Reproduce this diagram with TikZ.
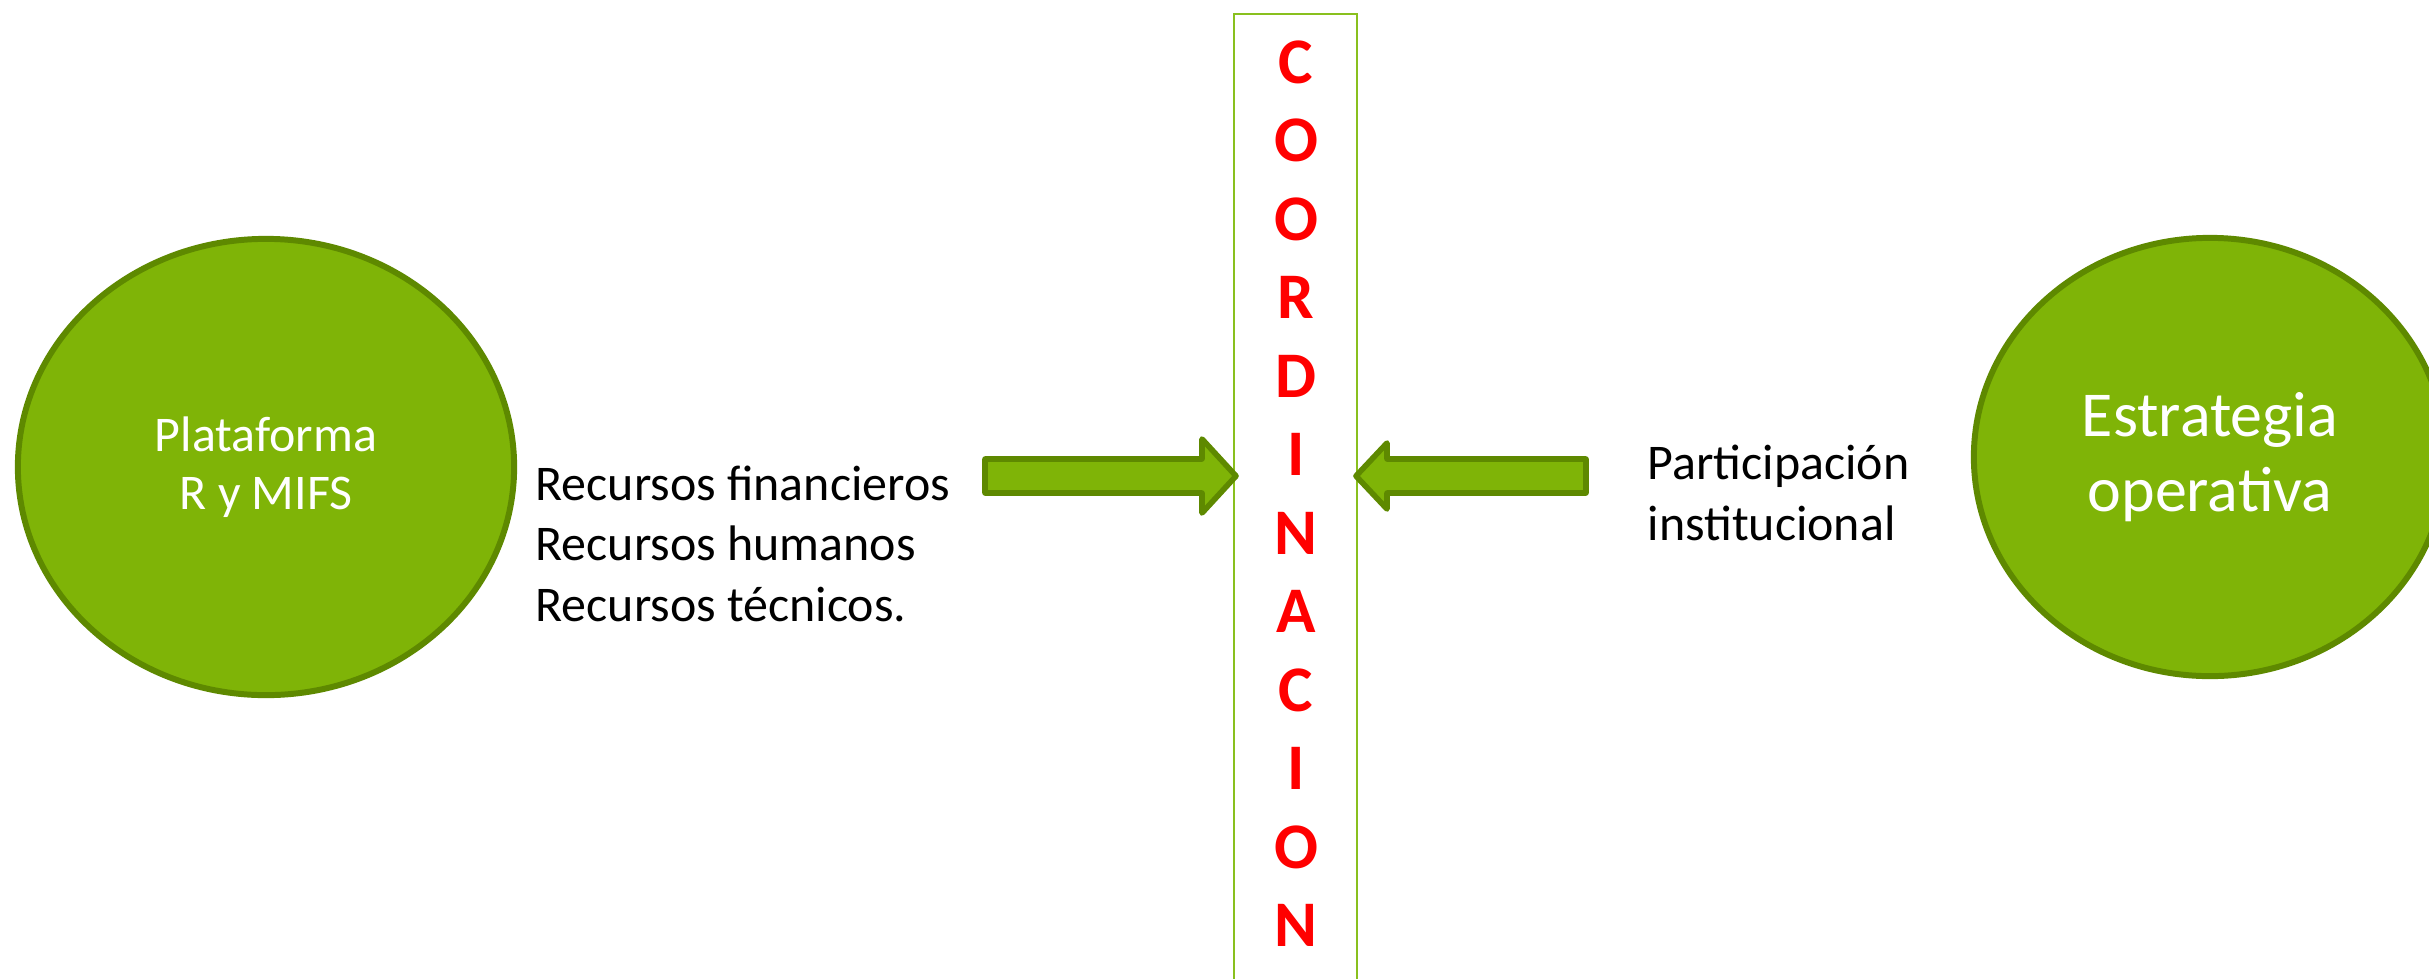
\documentclass[tikz,border=0pt]{standalone}
\usepackage{fontspec}
\setmainfont{Carlito}
\usetikzlibrary{shapes.geometric}

\definecolor{verdeClaro}{RGB}{127,180,7}
\definecolor{verdeOscuro}{RGB}{94,137,0}
\definecolor{verdeLinea}{RGB}{137,192,30}
\definecolor{rojo}{RGB}{255,0,0}

\begin{document}
\begin{tikzpicture}[x=0.01cm,y=-0.01cm]
\tikzstyle{every node}+=[inner sep=0pt]
\tikzstyle{circulo}=[ellipse, draw=verdeOscuro, fill=verdeClaro, line width=1.7pt, text=white, align=center]
\tikzstyle{flecha}=[draw=verdeOscuro, fill=verdeClaro, line width=1.6pt, line join=round]
\tikzstyle{texto}=[anchor=base west, align=left, font=\fontsize{14.2}{17.1}\selectfont]
\tikzstyle{letra}=[anchor=base, text=rojo, font=\fontsize{18.5}{20}\selectfont\bfseries]
\useasboundingbox (0,0) rectangle (2429,978);
% circulos
\node[circulo, minimum width=4.96cm, minimum height=4.56cm, font=\fontsize{14.2}{16.5}\selectfont] (plat) at (266,467) {Plataforma\\R y MIFS};
\node[circulo, minimum width=4.72cm, minimum height=4.38cm, font=\fontsize{18.2}{21.3}\selectfont] (estr) at (2210,457) {Estrategia\\operativa};
% textos (base = ultima linea)
\node[texto] (recursos) at (535,621) {Recursos financieros\\Recursos humanos\\Recursos técnicos.};
\node[texto] (partic) at (1647,540) {Participación\\institucional};
% columna
\draw[verdeLinea, line width=0.6pt] (1234,1000) -- (1234,14) -- (1357,14) -- (1357,1000);
\foreach \l [count=\i] in {C,O,O,R,D,I,N,A,C,I,O,N}
  \node[letra] (l\i) at (1296,{83+78.5*(\i-1)}) {\l};
% flechas
\draw[flecha] (985,459) -- (1202,459) -- (1202,439) -- (1236,476) -- (1202,513) -- (1202,493) -- (985,493) -- cycle;
\draw[flecha] (1586,459) -- (1387,459) -- (1387,443) -- (1356,476) -- (1387,509) -- (1387,493) -- (1586,493) -- cycle;
\end{tikzpicture}
\end{document}
